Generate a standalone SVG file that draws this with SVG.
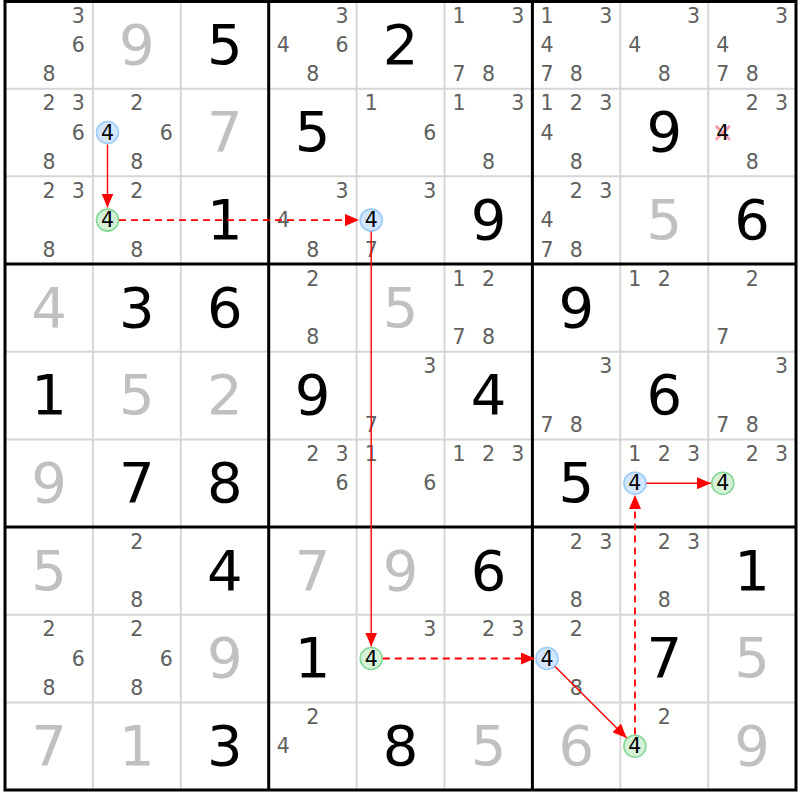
<svg xmlns="http://www.w3.org/2000/svg" width="800" height="800" viewBox="0 0 800 800">
<style>
text{font-family:"DejaVu Sans","Verdana",sans-serif;text-anchor:middle}
.g{font-size:56px;fill:#000}
.s{font-size:56px;fill:#c0c0c0}
.c{font-size:20.5px;fill:#606060}
.k{font-size:20.5px;fill:#000}
.thin{stroke:#d6d6d6;stroke-width:2}
.thick{stroke:#000;stroke-width:3}
.cb{fill:#d3e6ff;stroke:#9ccaf8;stroke-width:1.6}
.cg{fill:#d5f2d8;stroke:#86d896;stroke-width:1.6}
.ln{stroke:#ff0000;stroke-width:1.4;fill:none}
.dl{stroke:#ff0000;stroke-width:1.8;fill:none;stroke-dasharray:7 5}
.x{stroke:#f6a0ac;stroke-width:3}
</style>
<defs>
<marker id="ah" markerUnits="userSpaceOnUse" markerWidth="15" markerHeight="12" refX="14" refY="6" orient="auto">
<path d="M0,0 L14,6 L0,12 z" fill="#ff0000" stroke="none"/>
</marker>
</defs>
<rect x="0" y="0" width="800" height="800" fill="#fff"/>
<g id="grid">
<path class="thin" d="M92.9,1V790M180.8,1V790M356.6,1V790M444.5,1V790M620.3,1V790M708.2,1V790M5,88.7H796M5,176.3H796M5,351.7H796M5,439.4H796M5,614.7H796M5,702.4H796"/>
<path class="thick" d="M268.7,1V790M532.4,1V790M5,264H796M5,527H796"/>
<rect class="thick" x="5" y="1.5" width="791" height="788.5" fill="none"/>
</g>
<g id="cells">
<g id="r0c0" transform="translate(5,1)"><text class="c" x="73.3" y="21.8">3</text><text class="c" x="73.3" y="51.1">6</text><text class="c" x="44" y="80.4">8</text></g>
<g id="r0c1" transform="translate(92.9,1)"><text class="s" x="44" y="62.8">9</text></g>
<g id="r0c2" transform="translate(180.8,1)"><text class="g" x="44" y="62.8">5</text></g>
<g id="r0c3" transform="translate(268.7,1)"><text class="c" x="73.3" y="21.8">3</text><text class="c" x="14.6" y="51.1">4</text><text class="c" x="73.3" y="51.1">6</text><text class="c" x="44" y="80.4">8</text></g>
<g id="r0c4" transform="translate(356.6,1)"><text class="g" x="44" y="62.8">2</text></g>
<g id="r0c5" transform="translate(444.5,1)"><text class="c" x="14.6" y="21.8">1</text><text class="c" x="73.3" y="21.8">3</text><text class="c" x="14.6" y="80.4">7</text><text class="c" x="44" y="80.4">8</text></g>
<g id="r0c6" transform="translate(532.4,1)"><text class="c" x="14.6" y="21.8">1</text><text class="c" x="73.3" y="21.8">3</text><text class="c" x="14.6" y="51.1">4</text><text class="c" x="14.6" y="80.4">7</text><text class="c" x="44" y="80.4">8</text></g>
<g id="r0c7" transform="translate(620.3,1)"><text class="c" x="73.3" y="21.8">3</text><text class="c" x="14.6" y="51.1">4</text><text class="c" x="44" y="80.4">8</text></g>
<g id="r0c8" transform="translate(708.2,1)"><text class="c" x="73.3" y="21.8">3</text><text class="c" x="14.6" y="51.1">4</text><text class="c" x="14.6" y="80.4">7</text><text class="c" x="44" y="80.4">8</text></g>

<g id="r1c0" transform="translate(5,88.7)"><text class="c" x="44" y="21.8">2</text><text class="c" x="73.3" y="21.8">3</text><text class="c" x="73.3" y="51.1">6</text><text class="c" x="44" y="80.4">8</text></g>
<g id="r1c1" transform="translate(92.9,88.7)"><text class="c" x="44" y="21.8">2</text><circle class="cb" cx="14.6" cy="43.8" r="11"/><text class="k" x="14.6" y="51.1">4</text><text class="c" x="73.3" y="51.1">6</text><text class="c" x="44" y="80.4">8</text></g>
<g id="r1c2" transform="translate(180.8,88.7)"><text class="s" x="44" y="62.8">7</text></g>
<g id="r1c3" transform="translate(268.7,88.7)"><text class="g" x="44" y="62.8">5</text></g>
<g id="r1c4" transform="translate(356.6,88.7)"><text class="c" x="14.6" y="21.8">1</text><text class="c" x="73.3" y="51.1">6</text></g>
<g id="r1c5" transform="translate(444.5,88.7)"><text class="c" x="14.6" y="21.8">1</text><text class="c" x="73.3" y="21.8">3</text><text class="c" x="44" y="80.4">8</text></g>
<g id="r1c6" transform="translate(532.4,88.7)"><text class="c" x="14.6" y="21.8">1</text><text class="c" x="44" y="21.8">2</text><text class="c" x="73.3" y="21.8">3</text><text class="c" x="14.6" y="51.1">4</text><text class="c" x="44" y="80.4">8</text></g>
<g id="r1c7" transform="translate(620.3,88.7)"><text class="g" x="44" y="62.8">9</text></g>
<g id="r1c8" transform="translate(708.2,88.7)"><text class="c" x="44" y="21.8">2</text><text class="c" x="73.3" y="21.8">3</text><path class="x" d="M7.5,37L21.7,51M21.7,37L7.5,51"/><text class="k" x="14.6" y="51.1">4</text><text class="c" x="44" y="80.4">8</text></g>

<g id="r2c0" transform="translate(5,176.3)"><text class="c" x="44" y="21.8">2</text><text class="c" x="73.3" y="21.8">3</text><text class="c" x="44" y="80.4">8</text></g>
<g id="r2c1" transform="translate(92.9,176.3)"><text class="c" x="44" y="21.8">2</text><circle class="cg" cx="14.6" cy="43.8" r="11"/><text class="k" x="14.6" y="51.1">4</text><text class="c" x="44" y="80.4">8</text></g>
<g id="r2c2" transform="translate(180.8,176.3)"><text class="g" x="44" y="62.8">1</text></g>
<g id="r2c3" transform="translate(268.7,176.3)"><text class="c" x="73.3" y="21.8">3</text><text class="c" x="14.6" y="51.1">4</text><text class="c" x="44" y="80.4">8</text></g>
<g id="r2c4" transform="translate(356.6,176.3)"><text class="c" x="73.3" y="21.8">3</text><circle class="cb" cx="14.6" cy="43.8" r="11"/><text class="k" x="14.6" y="51.1">4</text><text class="c" x="14.6" y="80.4">7</text></g>
<g id="r2c5" transform="translate(444.5,176.3)"><text class="g" x="44" y="62.8">9</text></g>
<g id="r2c6" transform="translate(532.4,176.3)"><text class="c" x="44" y="21.8">2</text><text class="c" x="73.3" y="21.8">3</text><text class="c" x="14.6" y="51.1">4</text><text class="c" x="14.6" y="80.4">7</text><text class="c" x="44" y="80.4">8</text></g>
<g id="r2c7" transform="translate(620.3,176.3)"><text class="s" x="44" y="62.8">5</text></g>
<g id="r2c8" transform="translate(708.2,176.3)"><text class="g" x="44" y="62.8">6</text></g>

<g id="r3c0" transform="translate(5,264)"><text class="s" x="44" y="62.8">4</text></g>
<g id="r3c1" transform="translate(92.9,264)"><text class="g" x="44" y="62.8">3</text></g>
<g id="r3c2" transform="translate(180.8,264)"><text class="g" x="44" y="62.8">6</text></g>
<g id="r3c3" transform="translate(268.7,264)"><text class="c" x="44" y="21.8">2</text><text class="c" x="44" y="80.4">8</text></g>
<g id="r3c4" transform="translate(356.6,264)"><text class="s" x="44" y="62.8">5</text></g>
<g id="r3c5" transform="translate(444.5,264)"><text class="c" x="14.6" y="21.8">1</text><text class="c" x="44" y="21.8">2</text><text class="c" x="14.6" y="80.4">7</text><text class="c" x="44" y="80.4">8</text></g>
<g id="r3c6" transform="translate(532.4,264)"><text class="g" x="44" y="62.8">9</text></g>
<g id="r3c7" transform="translate(620.3,264)"><text class="c" x="14.6" y="21.8">1</text><text class="c" x="44" y="21.8">2</text></g>
<g id="r3c8" transform="translate(708.2,264)"><text class="c" x="44" y="21.8">2</text><text class="c" x="14.6" y="80.4">7</text></g>

<g id="r4c0" transform="translate(5,351.7)"><text class="g" x="44" y="62.8">1</text></g>
<g id="r4c1" transform="translate(92.9,351.7)"><text class="s" x="44" y="62.8">5</text></g>
<g id="r4c2" transform="translate(180.8,351.7)"><text class="s" x="44" y="62.8">2</text></g>
<g id="r4c3" transform="translate(268.7,351.7)"><text class="g" x="44" y="62.8">9</text></g>
<g id="r4c4" transform="translate(356.6,351.7)"><text class="c" x="73.3" y="21.8">3</text><text class="c" x="14.6" y="80.4">7</text></g>
<g id="r4c5" transform="translate(444.5,351.7)"><text class="g" x="44" y="62.8">4</text></g>
<g id="r4c6" transform="translate(532.4,351.7)"><text class="c" x="73.3" y="21.8">3</text><text class="c" x="14.6" y="80.4">7</text><text class="c" x="44" y="80.4">8</text></g>
<g id="r4c7" transform="translate(620.3,351.7)"><text class="g" x="44" y="62.8">6</text></g>
<g id="r4c8" transform="translate(708.2,351.7)"><text class="c" x="73.3" y="21.8">3</text><text class="c" x="14.6" y="80.4">7</text><text class="c" x="44" y="80.4">8</text></g>

<g id="r5c0" transform="translate(5,439.4)"><text class="s" x="44" y="62.8">9</text></g>
<g id="r5c1" transform="translate(92.9,439.4)"><text class="g" x="44" y="62.8">7</text></g>
<g id="r5c2" transform="translate(180.8,439.4)"><text class="g" x="44" y="62.8">8</text></g>
<g id="r5c3" transform="translate(268.7,439.4)"><text class="c" x="44" y="21.8">2</text><text class="c" x="73.3" y="21.8">3</text><text class="c" x="73.3" y="51.1">6</text></g>
<g id="r5c4" transform="translate(356.6,439.4)"><text class="c" x="14.6" y="21.8">1</text><text class="c" x="73.3" y="51.1">6</text></g>
<g id="r5c5" transform="translate(444.5,439.4)"><text class="c" x="14.6" y="21.8">1</text><text class="c" x="44" y="21.8">2</text><text class="c" x="73.3" y="21.8">3</text></g>
<g id="r5c6" transform="translate(532.4,439.4)"><text class="g" x="44" y="62.8">5</text></g>
<g id="r5c7" transform="translate(620.3,439.4)"><text class="c" x="14.6" y="21.8">1</text><text class="c" x="44" y="21.8">2</text><text class="c" x="73.3" y="21.8">3</text><circle class="cb" cx="14.6" cy="43.8" r="11"/><text class="k" x="14.6" y="51.1">4</text></g>
<g id="r5c8" transform="translate(708.2,439.4)"><text class="c" x="44" y="21.8">2</text><text class="c" x="73.3" y="21.8">3</text><circle class="cg" cx="14.6" cy="43.8" r="11"/><text class="k" x="14.6" y="51.1">4</text></g>

<g id="r6c0" transform="translate(5,527)"><text class="s" x="44" y="62.8">5</text></g>
<g id="r6c1" transform="translate(92.9,527)"><text class="c" x="44" y="21.8">2</text><text class="c" x="44" y="80.4">8</text></g>
<g id="r6c2" transform="translate(180.8,527)"><text class="g" x="44" y="62.8">4</text></g>
<g id="r6c3" transform="translate(268.7,527)"><text class="s" x="44" y="62.8">7</text></g>
<g id="r6c4" transform="translate(356.6,527)"><text class="s" x="44" y="62.8">9</text></g>
<g id="r6c5" transform="translate(444.5,527)"><text class="g" x="44" y="62.8">6</text></g>
<g id="r6c6" transform="translate(532.4,527)"><text class="c" x="44" y="21.8">2</text><text class="c" x="73.3" y="21.8">3</text><text class="c" x="44" y="80.4">8</text></g>
<g id="r6c7" transform="translate(620.3,527)"><text class="c" x="44" y="21.8">2</text><text class="c" x="73.3" y="21.8">3</text><text class="c" x="44" y="80.4">8</text></g>
<g id="r6c8" transform="translate(708.2,527)"><text class="g" x="44" y="62.8">1</text></g>

<g id="r7c0" transform="translate(5,614.7)"><text class="c" x="44" y="21.8">2</text><text class="c" x="73.3" y="51.1">6</text><text class="c" x="44" y="80.4">8</text></g>
<g id="r7c1" transform="translate(92.9,614.7)"><text class="c" x="44" y="21.8">2</text><text class="c" x="73.3" y="51.1">6</text><text class="c" x="44" y="80.4">8</text></g>
<g id="r7c2" transform="translate(180.8,614.7)"><text class="s" x="44" y="62.8">9</text></g>
<g id="r7c3" transform="translate(268.7,614.7)"><text class="g" x="44" y="62.8">1</text></g>
<g id="r7c4" transform="translate(356.6,614.7)"><text class="c" x="73.3" y="21.8">3</text><circle class="cg" cx="14.6" cy="43.8" r="11"/><text class="k" x="14.6" y="51.1">4</text></g>
<g id="r7c5" transform="translate(444.5,614.7)"><text class="c" x="44" y="21.8">2</text><text class="c" x="73.3" y="21.8">3</text></g>
<g id="r7c6" transform="translate(532.4,614.7)"><text class="c" x="44" y="21.8">2</text><circle class="cb" cx="14.6" cy="43.8" r="11"/><text class="k" x="14.6" y="51.1">4</text><text class="c" x="44" y="80.4">8</text></g>
<g id="r7c7" transform="translate(620.3,614.7)"><text class="g" x="44" y="62.8">7</text></g>
<g id="r7c8" transform="translate(708.2,614.7)"><text class="s" x="44" y="62.8">5</text></g>

<g id="r8c0" transform="translate(5,702.4)"><text class="s" x="44" y="62.8">7</text></g>
<g id="r8c1" transform="translate(92.9,702.4)"><text class="s" x="44" y="62.8">1</text></g>
<g id="r8c2" transform="translate(180.8,702.4)"><text class="g" x="44" y="62.8">3</text></g>
<g id="r8c3" transform="translate(268.7,702.4)"><text class="c" x="44" y="21.8">2</text><text class="c" x="14.6" y="51.1">4</text></g>
<g id="r8c4" transform="translate(356.6,702.4)"><text class="g" x="44" y="62.8">8</text></g>
<g id="r8c5" transform="translate(444.5,702.4)"><text class="s" x="44" y="62.8">5</text></g>
<g id="r8c6" transform="translate(532.4,702.4)"><text class="s" x="44" y="62.8">6</text></g>
<g id="r8c7" transform="translate(620.3,702.4)"><text class="c" x="44" y="21.8">2</text><circle class="cg" cx="14.6" cy="43.8" r="11"/><text class="k" x="14.6" y="51.1">4</text></g>
<g id="r8c8" transform="translate(708.2,702.4)"><text class="s" x="44" y="62.8">9</text></g>
</g>
<g id="connectors">
<line class="ln" x1="107.5" y1="144.5" x2="107.5" y2="207.5" marker-end="url(#ah)"/>
<line class="dl" x1="119" y1="220.1" x2="359" y2="220.1" marker-end="url(#ah)"/>
<line class="ln" x1="371.2" y1="231.5" x2="371.2" y2="646.5" marker-end="url(#ah)"/>
<line class="dl" x1="382.8" y1="658.5" x2="535" y2="658.5" marker-end="url(#ah)"/>
<line class="ln" x1="555" y1="666.5" x2="626.7" y2="737.9" marker-end="url(#ah)"/>
<line class="dl" x1="635" y1="734.5" x2="635" y2="495" marker-end="url(#ah)"/>
<line class="ln" x1="646.5" y1="483.2" x2="711" y2="483.2" marker-end="url(#ah)"/>
</g>
</svg>
